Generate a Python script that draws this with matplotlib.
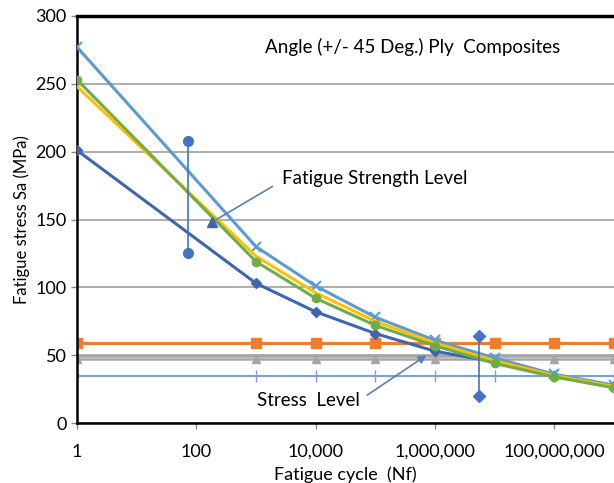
import numpy as np
import matplotlib.pyplot as plt
from matplotlib.ticker import FixedLocator, NullLocator

plt.rcParams['font.family'] = ['Lato', 'DejaVu Sans']

cycles = [1, 1e3, 1e4, 1e5, 1e6, 1e7, 1e8, 1e9]

# fatigue curves
s_cross = [277, 130, 101, 78, 61, 48, 36, 28]
s_yellow = [248, 123, 96, 75, 59, 46, 35, 27]
s_green = [253, 119, 92, 72, 57, 44, 34, 26]
s_diamond = [201, 103, 82, 66, 53, 45, 35, 27]

# constant levels
level_orange = [59] * len(cycles)
level_gray = [47] * len(cycles)
level_gray2 = [49.5] * len(cycles)
level_blue = [35] * len(cycles)

# error bars
eb1_x = [72, 72]
eb1_y = [208, 125]
eb2_x = [5.5e6, 5.5e6]
eb2_y = [64, 20]

xticks = [1, 1e2, 1e4, 1e6, 1e8]
xticklabels = ["1", "100", "10,000", "1,000,000", "100,000,000"]

fig = plt.figure(figsize=(6.14, 4.83), dpi=100)
ax = fig.add_axes([0.1254, 0.124, 0.8746, 0.843])

ax.plot(cycles, level_blue, color="#7F9ED8", lw=1.5, marker="|", ms=8, mew=1.0, zorder=2)
ax.plot(cycles, level_gray2, color="#A5A5A5", lw=1.8, zorder=2)
ax.plot(cycles, level_gray, color="#A5A5A5", lw=1.8, marker="^", ms=6, zorder=2)
ax.plot(cycles, level_orange, color="#ED7D31", lw=2.2, marker="s", ms=7, zorder=2)

ax.plot(cycles, s_diamond, color="#3E66B0", lw=2.2, marker="D", ms=5, zorder=3)
ax.plot(cycles, s_cross, color="#5B9BD5", lw=2.2, marker="x", ms=7, mew=1.5, zorder=3)
ax.plot(cycles, s_yellow, color="#FFC000", lw=2.2, zorder=3)
ax.plot(cycles, s_green, color="#70AD47", lw=2.2, marker="o", ms=6, zorder=4)

ax.plot(eb1_x, eb1_y, color="#4472C4", lw=1.2, marker="o", ms=7, zorder=5)
ax.plot(eb2_x, eb2_y, color="#4472C4", lw=1.2, marker="D", ms=6, zorder=5)

# annotations
ax.text(1.4e3, 277, "Angle (+/- 45 Deg.) Ply  Composites", fontsize=13.5, va="center")
ax.annotate("Fatigue Strength Level", xy=(182, 148), xytext=(2700, 180),
            fontsize=13.5, va="center",
            arrowprops=dict(arrowstyle="-", color="#5A7FB5", lw=1.2, shrinkA=0, shrinkB=0,
                            relpos=(-0.05, 0.05)))
ax.plot([182], [148], marker="^", color="#3E66B0", ms=7, zorder=6)
ax.annotate("Stress  Level", xy=(7.2e5, 50), xytext=(5.5e4, 17),
            fontsize=13.5, va="center", ha="right",
            arrowprops=dict(arrowstyle="-|>", color="#5A7FB5", lw=1.2, shrinkA=4, shrinkB=0,
                            mutation_scale=12, relpos=(1, 0.5)))

ax.set_xscale("log")
ax.set_xlim(1, 1e9)
ax.set_ylim(0, 300)
ax.xaxis.set_major_locator(FixedLocator(xticks))
ax.set_xticklabels(xticklabels)
ax.xaxis.set_minor_locator(NullLocator())
ax.set_yticks([0, 50, 100, 150, 200, 250, 300])
ax.tick_params(labelsize=13, length=4, width=1, color="#888888")
ax.tick_params(axis="x", pad=11)
ax.grid(axis="y", color="#A0A0A0", lw=1.2)
ax.set_axisbelow(True)

for side in ["left", "bottom"]:
    ax.spines[side].set_linewidth(1.8)
ax.spines["top"].set_linewidth(2.5)
ax.spines["right"].set_visible(False)

ax.set_xlabel("Fatigue cycle  (Nf)", fontsize=13, labelpad=5)
ax.set_ylabel("Fatigue stress Sa (MPa)", fontsize=12, labelpad=4)

fig.savefig("out.png", dpi=100)
